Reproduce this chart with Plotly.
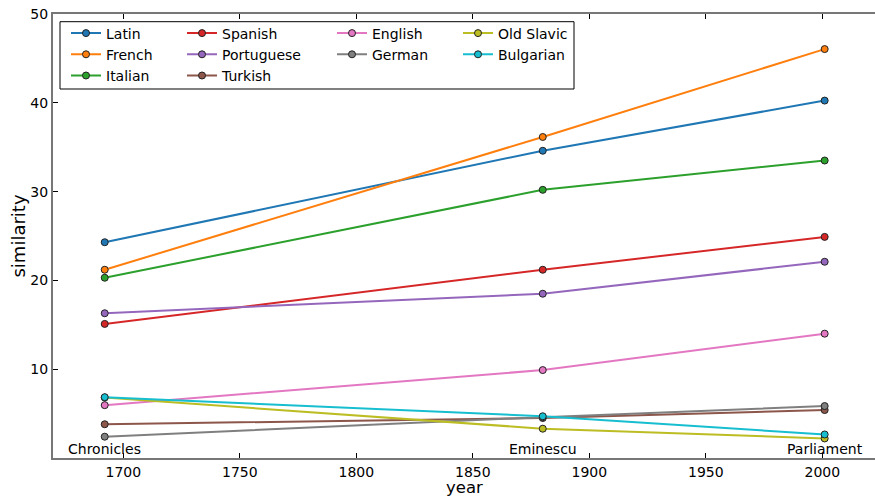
import plotly.graph_objects as go

# Corpus periods and their approximate years
periods = ["Chronicles", "Eminescu", "Parliament"]
years = [1692, 1880, 2001]

# Similarity scores per language, one value per period
languages = ["Latin", "French", "Italian", "Spanish", "Portuguese",
             "Turkish", "English", "German", "Old Slavic", "Bulgarian"]
latin = [24.3, 34.6, 40.25]
french = [21.2, 36.15, 46.05]
italian = [20.3, 30.2, 33.5]
spanish = [15.1, 21.2, 24.9]
portuguese = [16.3, 18.5, 22.1]
turkish = [3.8, 4.5, 5.4]
english = [5.95, 9.9, 14.0]
german = [2.4, 4.6, 5.85]
old_slavic = [6.8, 3.3, 2.2]
bulgarian = [6.85, 4.7, 2.65]

series = [latin, french, italian, spanish, portuguese,
          turkish, english, german, old_slavic, bulgarian]
colors = ["#1f77b4", "#ff7f0e", "#2ca02c", "#d62728", "#9467bd",
          "#8c564b", "#e377c2", "#7f7f7f", "#bcbd22", "#17becf"]
# legend column for each language (column-major, 3 rows)
legend_ids = ["legend", "legend", "legend", "legend2", "legend2",
              "legend2", "legend3", "legend3", "legend4", "legend4"]

FONT = "DejaVu Sans"
W, H = 875, 498
L, R, T, B = 53, 0, 14, 40
PW, PH = W - L - R, H - T - B
Y_RANGE = [0, 50]
Y_TICKS = [10, 20, 30, 40, 50]


def px_x(px):
    return (px - L) / PW


def px_y(py):
    return (H - B - py) / PH


fig = go.Figure()
for name, vals, col, lg in zip(languages, series, colors, legend_ids):
    fig.add_trace(go.Scatter(
        x=years, y=vals, name=name, mode="lines+markers",
        line=dict(color=col, width=2),
        marker=dict(size=7, color=col, line=dict(color="#222222", width=1)),
        legend=lg,
    ))

# period labels along the bottom of the plot
annotations = [
    dict(x=yr, y=1, xref="x", yref="y", text=p, showarrow=False,
         xanchor="center", yanchor="middle",
         font=dict(family=FONT, size=14, color="black"))
    for yr, p in zip(years, periods)
]
# x-axis title, set at the foot of the page below the tick labels
annotations.append(dict(
    x=0.5, y=px_y(498), xref="paper", yref="paper", text="year",
    showarrow=False, xanchor="center", yanchor="bottom", borderpad=0,
    font=dict(family=FONT, size=16.5, color="black"),
))

legend_cols_px = [66, 182, 332, 458]
legend_style = dict(font=dict(family=FONT, size=14, color="black"),
                    bgcolor="rgba(0,0,0,0)", borderwidth=0,
                    xanchor="left", yanchor="top", y=px_y(17.5),
                    tracegroupgap=0, itemwidth=30)
legends = {}
for i, key in enumerate(["legend", "legend2", "legend3", "legend4"]):
    legends[key] = dict(legend_style, x=px_x(legend_cols_px[i]))

fig.update_layout(
    width=W, height=H,
    margin=dict(l=L, r=R, t=T, b=B, pad=0, autoexpand=False),
    paper_bgcolor="white", plot_bgcolor="white",
    font=dict(family=FONT, size=14, color="black"),
    showlegend=True,
    annotations=annotations,
    shapes=[dict(type="rect", xref="paper", yref="paper",
                 x0=px_x(60), x1=px_x(574), y0=px_y(89), y1=px_y(21.7),
                 line=dict(color="black", width=1), fillcolor="white",
                 layer="above")],
    **legends,
)

fig.update_xaxes(
    range=[1669.8, 2022.6], tickvals=[1700, 1750, 1800, 1850, 1900, 1950, 2000],
    automargin=False,
    showgrid=False, zeroline=False,
    showline=True, linecolor="#777777", linewidth=2, mirror="ticks",
    ticks="inside", ticklen=5, tickcolor="black", tickwidth=1,
    tickfont=dict(family=FONT, size=14, color="black"),
)
fig.update_layout(
    yaxis=dict(
        range=Y_RANGE, tickvals=Y_TICKS, automargin=False,
        showgrid=False, zeroline=False,
        showline=True, linecolor="#777777", linewidth=2, mirror=False,
        ticks="inside", ticklen=5, tickcolor="black", tickwidth=1,
        tickfont=dict(family=FONT, size=14, color="black"),
        title=dict(text="similarity", font=dict(family=FONT, size=18, color="black"), standoff=0),
    ),
    # right-hand tick marks only (the right edge of the frame is at the page edge)
    yaxis2=dict(
        overlaying="y", side="right", range=Y_RANGE, tickvals=Y_TICKS,
        automargin=False,
        showgrid=False, zeroline=False, showline=False, showticklabels=False,
        ticks="inside", ticklen=5, tickcolor="black", tickwidth=1,
    ),
)

fig.write_html("out.html")
